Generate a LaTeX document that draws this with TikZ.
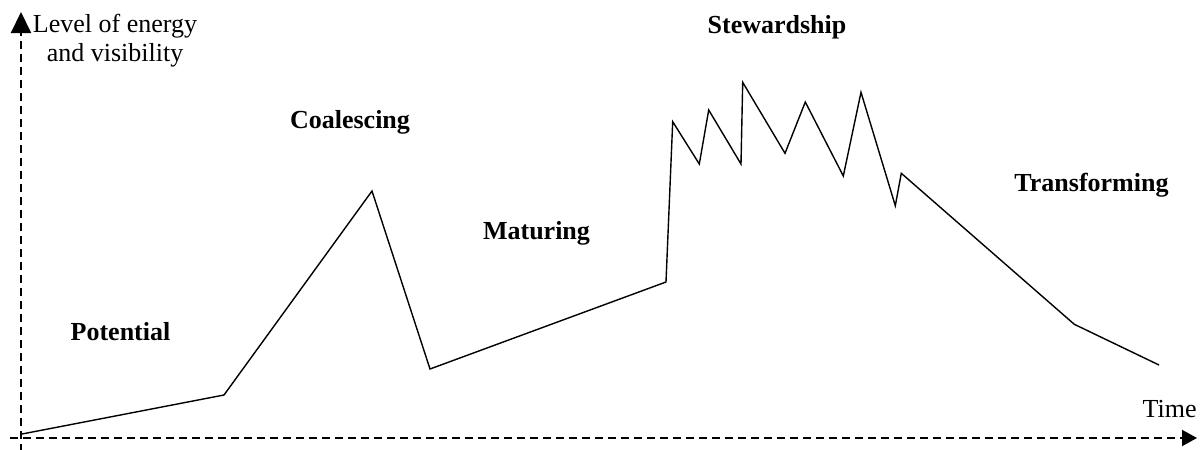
\documentclass[tikz,border=0pt]{standalone}
\usepackage{fontspec}
\setmainfont{Liberation Serif}
\usetikzlibrary{arrows.meta}
\begin{document}
\begin{tikzpicture}[
    x=0.5pt, y=-0.5pt,
    axis/.style={dash pattern=on 4pt off 2.5pt, line width=1pt},
    curve/.style={line width=0.7pt, line join=miter},
    phase/.style={font=\fontsize{13}{14.5}\selectfont\bfseries,
        anchor=base, inner sep=0pt},
    axislabel/.style={font=\fontsize{13}{14.5}\selectfont, inner sep=0pt}
]
\useasboundingbox (0,0) rectangle (1200,450);
\coordinate (ybottom) at (21,452);
\coordinate (ytop) at (21,12);
\coordinate (xleft) at (10,438);
\coordinate (xright) at (1197,438);
\draw[axis, -{Triangle[length=10.5pt,width=10pt]}] (ybottom) -- (ytop);
\draw[axis, -{Triangle[length=7.5pt,width=8pt]}] (xleft) -- (xright);
\node[axislabel, anchor=north, align=center] (energy) at (115,14)
    {Level of energy\\and visibility};
\node[axislabel, anchor=base east] (time) at (1197,417) {Time};
\node[phase] (potential) at (120.5,340) {Potential};
\node[phase] (coalescing) at (350,128) {Coalescing};
\node[phase] (maturing) at (536.5,239) {Maturing};
\node[phase] (stewardship) at (777,33) {Stewardship};
\node[phase] (transforming) at (1091.5,191.5) {Transforming};
\draw[curve] (22,434) -- (224,395) -- (372,191) -- (430,369) -- (666,282)
    -- (672.7,121.7) -- (699.3,164) -- (708.7,110) -- (741,164)
    -- (742.7,82.3) -- (785,153.3) -- (805.3,102) -- (843.3,176)
    -- (861,92.3) -- (895.3,205.7) -- (901.3,173.3) -- (1074.3,324.3)
    -- (1159,365);
\end{tikzpicture}
\end{document}
